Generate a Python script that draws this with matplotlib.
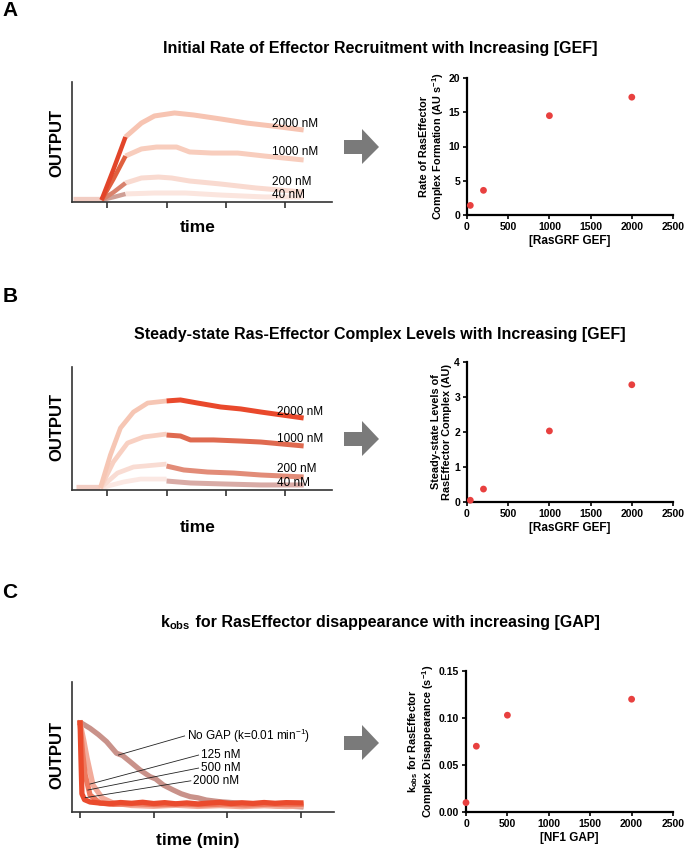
import matplotlib

matplotlib.use("Agg")

import matplotlib.pyplot as plt
from matplotlib.patches import Polygon

plt.rcParams["font.family"] = ["Liberation Sans", "DejaVu Sans"]
plt.rcParams["mathtext.default"] = "regular"

W, H = 689, 850

# ---- panel A: schematic traces (time units, output units) ----
a_base_t = [8.5, 18.0]
a_base_y = [2.5, 2.5]
a_labels = ["2000 nM", "1000 nM", "200 nM", "40 nM"]
a_early_t = [[18.0, 22.0, 26.1], [18.0, 22.0, 26.1], [18.0, 22.0, 26.1], [18.0, 22.0, 26.1]]
a_early_y = [[1.7, 27.0, 54.2], [1.7, 19.0, 38.3], [1.7, 8.0, 15.8], [1.7, 4.0, 6.7]]
a_late_t = [
    [26.1, 31.5, 35.9, 42.7, 49.2, 58.3, 67.1, 75.9, 86.4],
    [26.1, 31.5, 36.6, 43.4, 47.8, 55.3, 64.1, 73.2, 86.4],
    [26.1, 31.5, 37.3, 41.7, 47.8, 58.3, 70.2, 86.4],
    [26.1, 35.9, 46.4, 58.3, 73.2, 86.4],
]
a_late_y = [
    [54.2, 65.8, 71.7, 74.2, 72.5, 69.2, 65.8, 63.3, 60.0],
    [38.3, 44.2, 45.8, 45.8, 41.7, 40.8, 40.8, 38.3, 35.0],
    [15.8, 20.0, 20.8, 20.0, 17.5, 15.0, 11.7, 8.3],
    [6.7, 7.5, 7.5, 5.8, 4.2, 4.2],
]

# ---- panel B ----
b_base_t = [9.2, 17.6]
b_base_y = [2.4, 2.4]
b_rise_t = [
    [17.6, 21.0, 24.4, 28.8, 33.6, 40.0],
    [17.6, 22.0, 26.8, 32.2, 40.0],
    [17.6, 23.4, 28.8, 40.0],
    [17.6, 25.4, 31.2, 40.0],
]
b_rise_y = [
    [1.6, 28.5, 50.4, 63.4, 70.7, 72.4],
    [1.6, 22.8, 38.2, 43.1, 45.5],
    [1.6, 13.8, 18.7, 21.1],
    [1.6, 6.5, 8.9, 8.9],
]
b_ss_t = [
    [40.0, 44.7, 50.5, 58.3, 65.1, 71.9, 86.4],
    [40.0, 44.7, 48.1, 55.9, 65.1, 71.9, 86.4],
    [40.0, 45.8, 53.9, 62.7, 71.9, 86.4],
    [40.0, 48.1, 59.3, 71.9, 86.4],
]
b_ss_y = [
    [72.4, 73.2, 70.7, 67.5, 65.9, 63.4, 58.5],
    [44.7, 43.9, 40.7, 40.7, 39.8, 39.0, 35.8],
    [19.5, 16.3, 14.6, 13.8, 12.2, 10.6],
    [7.3, 5.7, 4.9, 4.1, 4.1],
]

# ---- panel C (minutes) ----
c_labels = ["No GAP (k=0.01 min$^{-1}$)", "125 nM", "500 nM", "2000 nM"]
c_nogap_t = [0.0, 0.5, 2.7, 5.0, 7.2, 9.9, 11.5, 13.6, 16.3, 19.0, 20.5, 22.6, 25.3, 27.5,
             29.9, 32.0, 34.3, 38.0, 40.5, 43.4, 46.0, 48.8, 51.5, 54.0, 57.0, 60.0]
c_nogap_y = [68.5, 68.2, 64.4, 59.5, 54.1, 45.2, 43.5, 38.7, 32.3, 27.2, 25.5, 20.8, 16.9,
             14.0, 11.8, 10.9, 9.2, 7.9, 7.4, 6.7, 6.0, 5.4, 5.2, 4.6, 4.5, 4.0]
c_125_t = [0.0, 1.0, 1.9, 3.5, 6.0, 9.0, 14, 20, 26, 32, 38, 44, 50, 56, 60]
c_125_y = [68.5, 55.0, 41.5, 20.8, 10.8, 6.9, 5.0, 4.4, 5.2, 4.3, 4.9, 4.1, 4.8, 4.2, 4.6]
c_500_t = [0.0, 0.7, 1.4, 2.7, 5.4, 9, 15, 21, 27, 33, 39, 45, 51, 57, 60]
c_500_y = [68.5, 45.0, 28.5, 13.1, 6.9, 5.9, 6.4, 5.6, 6.2, 5.5, 6.1, 5.4, 6.0, 5.6, 5.8]
c_2000_t = [0.0, 0.2, 0.5, 1.2, 2.7, 5, 8, 11, 14, 17, 20, 23, 26, 29, 32, 35, 38, 41, 44,
            47, 50, 53, 56, 60]
c_2000_y = [68.5, 45.0, 14.0, 9.5, 7.7, 7.0, 6.4, 7.3, 6.7, 7.5, 6.5, 7.2, 6.3, 7.0, 6.2,
            6.9, 7.4, 6.5, 7.1, 6.6, 7.3, 6.7, 7.2, 7.0]

# ---- right-hand panels: measured values ----
gef_conc = [40, 200, 1000, 2000]
initial_rate = [1.4, 3.6, 14.5, 17.2]
steady_state = [0.05, 0.37, 2.03, 3.35]
gap_conc = [0, 125, 500, 2000]
k_obs = [0.010, 0.070, 0.103, 0.120]

a_early_col = ["#e2452a", "#e0603f", "#d9826d", "#cf9f96"]
a_late_col = ["#f7c4b2", "#f8cdbd", "#f9dad0", "#fbe5de"]
b_rise_col = ["#f6c6b4", "#f8d0c2", "#f9dcd3", "#fbe8e3"]
b_ss_col = ["#e9492c", "#df6a50", "#e28c78", "#d9aba6"]
c_cols = ["#c9928a", "#f2ab9a", "#ee7a5f", "#ea4b2d"]
dot_col = "#e8403f"


def rect(l, t, r, b):
    return [l / W, 1 - b / H, (r - l) / W, (b - t) / H]


def ftext(fig, x, y, s, **kw):
    return fig.text(x / W, 1 - y / H, s, **kw)


def arrow(fig, cy):
    pts = [(344, cy - 7), (362, cy - 7), (362, cy - 18), (379, cy), (362, cy + 17),
           (362, cy + 7), (344, cy + 7)]
    fig.patches.append(Polygon([(x / W, 1 - y / H) for x, y in pts], closed=True,
                               transform=fig.transFigure, facecolor="#7a7a7a",
                               edgecolor="none"))


def style_trace_ax(ax, xlim, xticks):
    for s in ("top", "right"):
        ax.spines[s].set_visible(False)
    for s in ("left", "bottom"):
        ax.spines[s].set_linewidth(1.2)
        ax.spines[s].set_color("#333333")
    ax.set_xlim(*xlim)
    ax.set_ylim(0, 100)
    ax.set_yticks([])
    ax.set_xticks(xticks)
    ax.set_xticklabels([])
    ax.tick_params(axis="x", direction="out", length=4, width=1.2, color="#333333")


def style_dot_ax(ax, ylim, yticks, ylabel, xlabel, yfmt=None):
    for s in ("top", "right"):
        ax.spines[s].set_visible(False)
    for s in ("left", "bottom"):
        ax.spines[s].set_linewidth(1.6)
    ax.set_xlim(0, 2500)
    ax.set_ylim(*ylim)
    ax.set_xticks([0, 500, 1000, 1500, 2000, 2500])
    ax.set_yticks(yticks)
    if yfmt:
        ax.set_yticklabels([yfmt % v for v in yticks])
    ax.tick_params(direction="out", length=3, width=1.2, labelsize=7.5, pad=2)
    for lab in ax.get_xticklabels() + ax.get_yticklabels():
        lab.set_fontweight("bold")
    ax.set_ylabel(ylabel, fontsize=7.8, fontweight="bold", labelpad=2, linespacing=1.05)
    ax.set_xlabel(xlabel, fontsize=8.5, fontweight="bold", labelpad=2)


fig = plt.figure(figsize=(W / 100, H / 100), dpi=100)

# panel letters and titles
for letter, y in (("A", 10), ("B", 297), ("C", 592)):
    ftext(fig, 10, y, letter, fontsize=15, fontweight="bold", ha="center", va="center")
ftext(fig, 380, 49, "Initial Rate of Effector Recruitment with Increasing [GEF]",
      fontsize=11.5, fontweight="bold", ha="center", va="center")
ftext(fig, 380, 335, "Steady-state Ras-Effector Complex Levels with Increasing [GEF]",
      fontsize=11.5, fontweight="bold", ha="center", va="center")

# title C: math part and plain part drawn separately to keep normal word spacing
renderer = fig.canvas.get_renderer()
t_k = ftext(fig, 0, 627, "k$_{obs}$", fontsize=11.5, fontweight="bold", va="baseline")
t_rest = ftext(fig, 0, 627, " for RasEffector disappearance with increasing [GAP]",
               fontsize=11.5, fontweight="bold", va="baseline")
wk = t_k.get_window_extent(renderer).width
wr = t_rest.get_window_extent(renderer).width
x0 = 380 - (wk + wr) / 2
t_k.set_x(x0 / W)
t_rest.set_x((x0 + wk) / W)

# ---- A left ----
ax = fig.add_axes(rect(72, 82, 332, 202))
style_trace_ax(ax, (8, 96), [20, 40, 60, 80])
ax.plot(a_base_t, a_base_y, color="#f2cdc3", lw=3.8, solid_capstyle="butt")
for i in range(4)[::-1]:
    ax.plot(a_late_t[i], a_late_y[i], color=a_late_col[i], lw=3.6, solid_capstyle="butt")
for i in range(4)[::-1]:
    ax.plot(a_early_t[i], a_early_y[i], color=a_early_col[i], lw=3.2, solid_capstyle="butt")
for lab, y in zip(a_labels, [65.0, 41.7, 16.7, 5.8]):
    ax.text(75.6, y, lab, fontsize=8.5, va="center")
ftext(fig, 57, 143, "OUTPUT", fontsize=12, fontweight="bold", rotation=90,
      ha="center", va="center")
ftext(fig, 198, 227, "time", fontsize=12.5, fontweight="bold", ha="center", va="center")
arrow(fig, 147)

# ---- A right ----
ax = fig.add_axes(rect(467, 78, 673, 215))
ax.scatter(gef_conc, initial_rate, s=24, color=dot_col, edgecolor="none", clip_on=False,
           zorder=3)
style_dot_ax(ax, (0, 20), [0, 5, 10, 15, 20],
             "Rate of RasEffector\nComplex Formation (AU s$^{-1}$)", "[RasGRF GEF]")

# ---- B left ----
ax = fig.add_axes(rect(72, 367, 332, 490))
style_trace_ax(ax, (8, 96), [20, 40, 60, 80])
ax.plot(b_base_t, b_base_y, color="#f2cdc3", lw=3.8, solid_capstyle="butt")
for i in range(4)[::-1]:
    ax.plot(b_rise_t[i], b_rise_y[i], color=b_rise_col[i], lw=3.4, solid_capstyle="butt")
for i in range(4)[::-1]:
    ax.plot(b_ss_t[i], b_ss_y[i], color=b_ss_col[i], lw=3.6, solid_capstyle="butt")
for lab, y in zip(a_labels, [63.4, 41.5, 17.1, 5.7]):
    ax.text(77.3, y, lab, fontsize=8.5, va="center")
ftext(fig, 57, 427, "OUTPUT", fontsize=12, fontweight="bold", rotation=90,
      ha="center", va="center")
ftext(fig, 198, 527, "time", fontsize=12.5, fontweight="bold", ha="center", va="center")
arrow(fig, 439)

# ---- B right ----
ax = fig.add_axes(rect(467, 362, 673, 502))
ax.scatter(gef_conc, steady_state, s=24, color=dot_col, edgecolor="none", clip_on=False,
           zorder=3)
style_dot_ax(ax, (0, 4), [0, 1, 2, 3, 4],
             "Steady-state Levels of\nRasEffector Complex (AU)", "[RasGRF GEF]")

# ---- C left ----
ax = fig.add_axes(rect(72, 682, 334, 812))
style_trace_ax(ax, (-2.2, 69), [0, 20, 40, 60])
ax.plot(c_nogap_t, c_nogap_y, color=c_cols[0], lw=3.8)
ax.plot(c_125_t, c_125_y, color=c_cols[1], lw=3.8)
ax.plot(c_500_t, c_500_y, color=c_cols[2], lw=3.8)
ax.plot(c_2000_t, c_2000_y, color=c_cols[3], lw=3.8)
label_xy = [(29.0, 58.5), (32.8, 43.8), (32.8, 33.8), (30.7, 24.0)]
line_ends = [(10.4, 43.8), (2.7, 21.5), (2.1, 16.9), (1.4, 11.0)]
for lab, (tx, ty), (ex, ey) in zip(c_labels, label_xy, line_ends):
    ax.plot([tx - 0.6, ex], [ty, ey], color="#222222", lw=0.6)
    ax.text(tx, ty, lab, fontsize=8.5, va="center")
ftext(fig, 57, 755, "OUTPUT", fontsize=12, fontweight="bold", rotation=90,
      ha="center", va="center")
ftext(fig, 198, 840, "time (min)", fontsize=12.5, fontweight="bold", ha="center",
      va="center")
arrow(fig, 743)

# ---- C right ----
ax = fig.add_axes(rect(466, 671, 673, 812))
ax.scatter(gap_conc, k_obs, s=24, color=dot_col, edgecolor="none", clip_on=False, zorder=3)
style_dot_ax(ax, (0, 0.15), [0.0, 0.05, 0.10, 0.15],
             "k$_{obs}$ for RasEffector\nComplex Disappearance (s$^{-1}$)", "[NF1 GAP]",
             yfmt="%.2f")

fig.savefig("out.png", dpi=100, facecolor="white")
